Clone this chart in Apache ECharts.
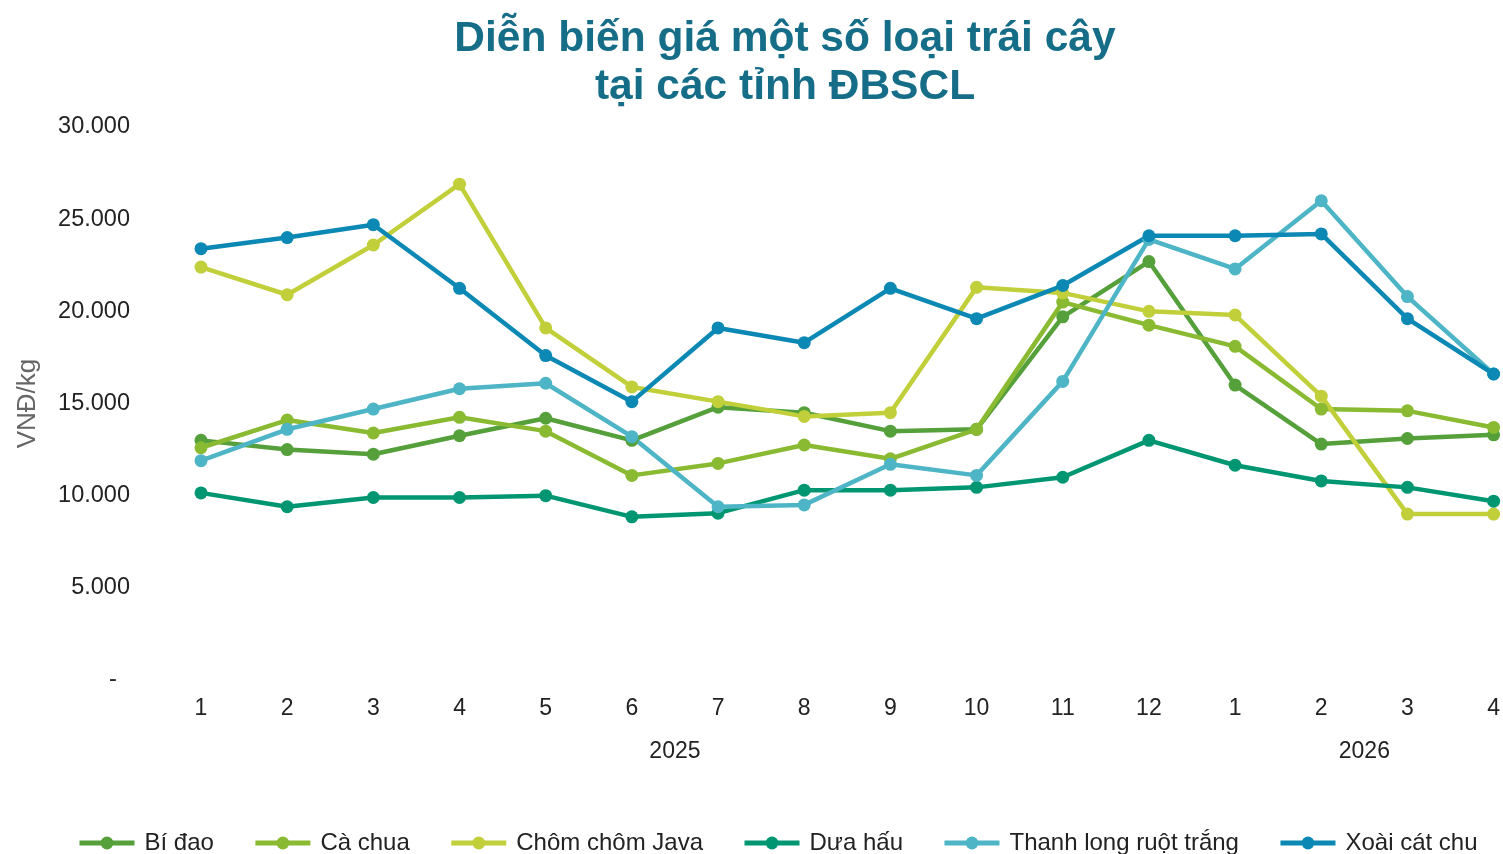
<!DOCTYPE html>
<html><head><meta charset="utf-8">
<script src="https://cdn.jsdelivr.net/npm/echarts@6/dist/echarts.min.js"></script>
<style>html,body{margin:0;padding:0;background:#fff}#c{width:1503px;height:854px}</style>
</head><body><div id="c"></div>
<script>
const months = ['1','2','3','4','5','6','7','8','9','10','11','12','1','2','3','4'];
const yearSlots = ['','','','','','2025','','','','','','','','2026',''];
const seriesNames = ['Bí đao','Cà chua','Chôm chôm Java','Dưa hấu','Thanh long ruột trắng','Xoài cát chu'];
const biDao     = [13000,12500,12250,13250,14200,13000,14800,14500,13500,13600,19700,22700,16000,12800,13100,13300];
const caChua    = [12600,14100,13400,14250,13500,11100,11750,12750,12000,13600,20500,19250,18100,14700,14600,13700];
const chomChom  = [22400,20900,23600,26900,19100,15900,15100,14300,14500,21300,21000,20000,19800,15400,9000,9000];
const duaHau    = [10150,9400,9900,9900,10000,8850,9050,10300,10300,10450,11000,13000,11650,10800,10450,9700];
const thanhLong = [11900,13600,14700,15800,16100,13200,9400,9500,11700,11100,16200,23900,22300,26000,20800,16600];
const xoai      = [23400,24000,24700,21250,17600,15100,19100,18300,21250,19600,21400,24100,24100,24200,19600,16600];
const colors = ['#55a03a','#8aba32','#c1cf3a','#009672','#4db5c5','#0b88b3'];
const allData = [biDao, caChua, chomChom, duaHau, thanhLong, xoai];

const FONT = '"Liberation Sans", Arial, sans-serif';
const chart = echarts.init(document.getElementById('c'));
chart.setOption({
  animation: false,
  color: colors,
  title: {
    text: 'Diễn biến giá một số loại trái cây\ntại các tỉnh ĐBSCL',
    left: 780, top: 10, textAlign: 'center',
    textStyle: { fontFamily: FONT, fontSize: 42.5, fontWeight: 'bold', color: '#166d88', lineHeight: 48 }
  },
  legend: {
    data: seriesNames, left: 77, top: 831, padding: 0, width: 1420,
    itemWidth: 55, itemHeight: 16, itemGap: 39,
    lineStyle: { width: 5 },
    textStyle: { fontFamily: FONT, fontSize: 24, color: '#222', padding: [0,0,0,5] }
  },
  grid: { left: 201, right: 9, top: 127, bottom: 174 },
  xAxis: [{
    type: 'category', data: months, boundaryGap: false,
    axisLine: { show: false }, axisTick: { show: false },
    axisLabel: { fontFamily: FONT, fontSize: 23, color: '#222', margin: 17 }
  }, {
    type: 'category', data: yearSlots, boundaryGap: true, position: 'bottom', offset: 43,
    axisLine: { show: false }, axisTick: { show: false },
    axisLabel: { fontFamily: FONT, fontSize: 23, color: '#222', margin: 17, interval: 0 }
  }],
  yAxis: {
    type: 'value', min: 0, max: 30000, interval: 5000,
    name: 'VNĐ/kg', nameLocation: 'middle', nameGap: 160, nameRotate: 90,
    nameTextStyle: { fontFamily: FONT, fontSize: 26, color: '#666' },
    splitLine: { show: false }, axisLine: { show: false }, axisTick: { show: false },
    axisLabel: {
      fontFamily: FONT, fontSize: 23.5, color: '#222', margin: 71,
      formatter: v => v === 0 ? '-  ' : v.toString().replace(/\B(?=(\d{3})+(?!\d))/g, '.')
    }
  },
  series: seriesNames.map((n, i) => ({
    name: n, type: 'line', data: allData[i], xAxisIndex: 0,
    symbol: 'circle', symbolSize: 13, lineStyle: { width: 4.5 }, itemStyle: { color: colors[i] }
  }))
});
</script></body></html>
